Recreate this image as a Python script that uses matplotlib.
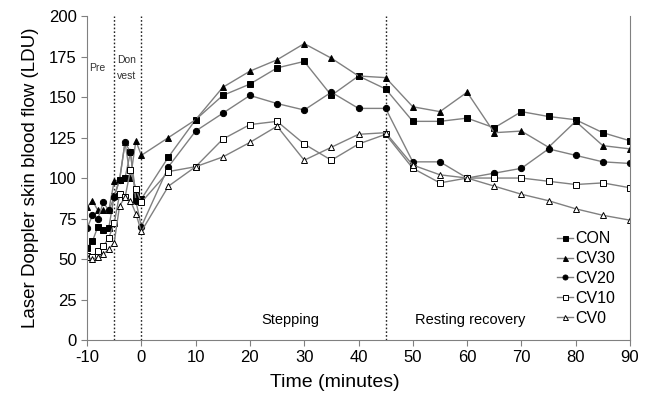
import matplotlib
matplotlib.use("Agg")
from matplotlib import pyplot as plt

plt.rcParams["font.family"] = ["Liberation Sans", "DejaVu Sans"]
plt.rcParams["axes.unicode_minus"] = False

# time points (minutes): 1-min during pre / don vest, 5-min afterwards
time_min = [-10, -9, -8, -7, -6, -5, -4, -3, -2, -1, 0,
            5, 10, 15, 20, 25, 30, 35, 40, 45, 50, 55, 60, 65, 70, 75, 80, 85, 90]

con = [57, 61, 70, 68, 69, 89, 99, 100, 116, 89, 87,
       113, 136, 151, 158, 168, 172, 151, 163, 155, 135, 135, 137, 131, 141, 138, 136, 128, 123]
cv30 = [82, 86, 80, 80, 80, 98, 99, 122, 100, 123, 114,
        125, 136, 156, 166, 173, 183, 174, 163, 162, 144, 141, 153, 128, 129, 119, 135, 120, 118]
cv20 = [69, 77, 75, 85, 80, 88, 99, 122, 116, 86, 70,
        107, 129, 140, 151, 146, 142, 153, 143, 143, 110, 110, 100, 103, 106, 118, 114, 110, 109]
cv10 = [52, 51, 55, 58, 63, 72, 90, 88, 105, 93, 85,
        104, 107, 124, 133, 135, 121, 111, 121, 127, 106, 97, 100, 100, 100, 98, 96, 97, 94]
cv0 = [51, 50, 51, 53, 56, 60, 83, 88, 86, 78, 67,
       95, 107, 113, 122, 132, 111, 119, 127, 128, 108, 102, 100, 95, 90, 86, 81, 77, 74]

series_names = ["CON", "CV30", "CV20", "CV10", "CV0"]
series_vals = [con, cv30, cv20, cv10, cv0]
markers = ["s", "^", "o", "s", "^"]
faces = ["black", "black", "black", "white", "white"]

fig = plt.figure(figsize=(6.47, 3.96), dpi=100)
ax = fig.add_axes([0.1345, 0.1414, 0.8392, 0.818])

grey = "#808080"
for name, vals, m, fc in zip(series_names, series_vals, markers, faces):
    ax.plot(time_min, vals, color=grey, lw=1.0, marker=m, markersize=4.5,
            markerfacecolor=fc, markeredgecolor="black", markeredgewidth=0.7,
            label=name)

for xv in [-5, 0, 45]:
    ax.axvline(xv, color="#222222", ls=(0, (1.2, 1.5)), lw=1.0, zorder=0)

ax.set_xlim(-10, 90)
ax.set_ylim(0, 200)
ax.set_xticks(range(-10, 91, 10))
ax.set_yticks(range(0, 201, 25))

for side in ["left", "bottom", "right"]:
    ax.spines[side].set_color(grey)
ax.spines["top"].set_visible(False)
ax.tick_params(axis="both", direction="out", color=grey, labelsize=12, length=4)
ax.tick_params(axis="y", right=False)

ax.set_xlabel("Time (minutes)", fontsize=14)
ax.set_ylabel("Laser Doppler skin blood flow (LDU)", fontsize=13.5)
ax.xaxis.set_label_coords(0.457, -0.105)
ax.yaxis.set_label_coords(-0.088, 0.5)

ax.text(-9.6, 166, "Pre", fontsize=7.5, color="#333333")
ax.text(-4.5, 171, "Don", fontsize=7.5, color="#333333")
ax.text(-4.5, 161, "vest", fontsize=7.5, color="#333333")
ax.text(27.5, 10, "Stepping", fontsize=10.5, ha="center")
ax.text(60.5, 10, "Resting recovery", fontsize=10.5, ha="center")

leg = ax.legend(loc="lower right", frameon=False, fontsize=11.5, handlelength=1.0,
                handletextpad=0.2, labelspacing=0.3, markerscale=0.8,
                bbox_to_anchor=(1.0, 0.0))

fig.savefig("out.png", dpi=100)
